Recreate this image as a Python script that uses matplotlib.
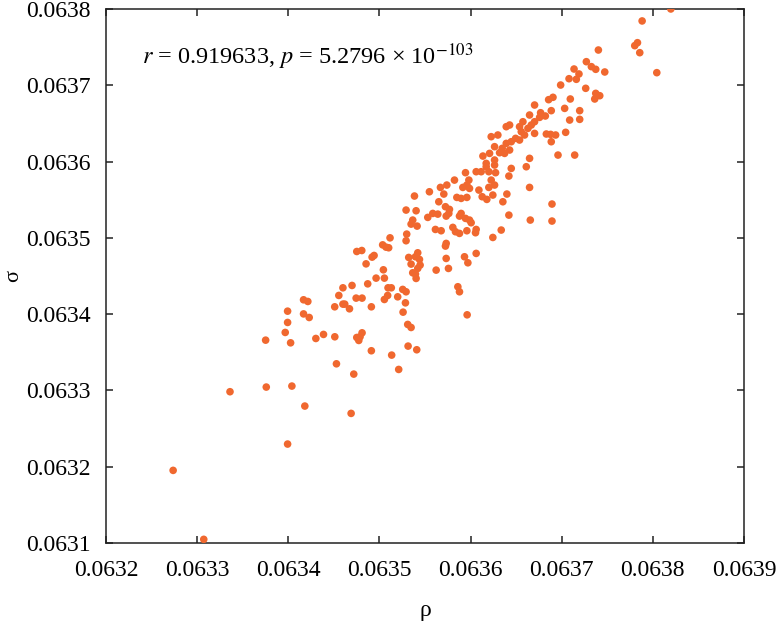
import numpy as np
import matplotlib
matplotlib.use("Agg")
import matplotlib.pyplot as plt

plt.rcParams['font.family'] = ['Liberation Serif', 'DejaVu Serif']
plt.rcParams['mathtext.fontset'] = 'stix'

# values (rho, sigma)
rho = [
    0.0638198, 0.0637883, 0.0637832, 0.0637802, 0.0637857, 0.0638044, 0.0637403, 0.0637271,
    0.0637326, 0.0637374, 0.0637473, 0.0637136, 0.0637190, 0.0637161, 0.0637081, 0.0636989,
    0.0637264, 0.0637374, 0.0637418, 0.0637363, 0.0637095, 0.0636905, 0.0636857, 0.0636703,
    0.0637033, 0.0636886, 0.0637198, 0.0636769, 0.0636648, 0.0636758, 0.0636821, 0.0637088,
    0.0637198, 0.0636575, 0.0636703, 0.0636429, 0.0636392, 0.0636667, 0.0636538, 0.0636630,
    0.0637044, 0.0636832, 0.0636879, 0.0636934, 0.0636227, 0.0636300, 0.0636703, 0.0636557,
    0.0636593, 0.0636886, 0.0636495, 0.0636538, 0.0636447, 0.0636392, 0.0636264, 0.0636348,
    0.0636429, 0.0636374, 0.0636319, 0.0636209, 0.0636136, 0.0636960, 0.0637143, 0.0636648,
    0.0636264, 0.0636172, 0.0636612, 0.0636447, 0.0636264, 0.0636172, 0.0636117, 0.0636275,
    0.0636201, 0.0636421, 0.0636227, 0.0636264, 0.0636201, 0.0636648, 0.0636399, 0.0636128,
    0.0636245,
    0.0636062, 0.0635945, 0.0635982, 0.0635960, 0.0635916, 0.0635989, 0.0635824, 0.0635740,
    0.0635670, 0.0635549, 0.0635707, 0.0635385, 0.0635850, 0.0635897, 0.0635960, 0.0636092,
    0.0636355, 0.0636421, 0.0636337, 0.0636245, 0.0636656, 0.0636894, 0.0636894, 0.0636179,
    0.0635652, 0.0635725,
    0.0635293, 0.0635403, 0.0635769, 0.0635762, 0.0635897, 0.0635879, 0.0635945, 0.0635989,
    0.0636007, 0.0635531, 0.0635586, 0.0635641, 0.0635733, 0.0635366, 0.0635348, 0.0635414,
    0.0635615, 0.0635678, 0.0635806, 0.0635835, 0.0635879, 0.0635960, 0.0636062, 0.0636055,
    0.0635300, 0.0635293, 0.0635733, 0.0635725, 0.0635421, 0.0635322, 0.0635396, 0.0635440,
    0.0635348, 0.0635447, 0.0635421, 0.0635733, 0.0635934, 0.0635971, 0.0636062, 0.0635623,
    0.0635758, 0.0635366, 0.0635396, 0.0635403, 0.0635256, 0.0635293, 0.0635861, 0.0635879,
    0.0635201,
    0.0635286, 0.0635260, 0.0635311, 0.0635348, 0.0635963, 0.0635315, 0.0635410,
    0.0632737, 0.0633073, 0.0633361, 0.0633752, 0.0633759, 0.0633993, 0.0633993, 0.0633967,
    0.0634026, 0.0634040, 0.0634182, 0.0633993, 0.0634168, 0.0634230, 0.0634303, 0.0634387,
    0.0634511, 0.0634510, 0.0634529, 0.0634600, 0.0634620, 0.0634672, 0.0634719, 0.0634690,
    0.0634752, 0.0634774, 0.0634788, 0.0634810, 0.0634912, 0.0634912, 0.0635135, 0.0635212,
    0.0635117, 0.0635036, 0.0635073, 0.0635102, 0.0634752, 0.0634807, 0.0634854, 0.0634920,
    0.0634942, 0.0634872, 0.0634964, 0.0635044, 0.0635055, 0.0635095, 0.0635131, 0.0634700,
    0.0634600, 0.0634555, 0.0634745, 0.0634810, 0.0635055, 0.0635091, 0.0634168, 0.0634215,
]
sigma = [
    0.0638000, 0.0637843, 0.0637558, 0.0637519, 0.0637427, 0.0637165, 0.0637462, 0.0637309,
    0.0637244, 0.0637209, 0.0637174, 0.0637213, 0.0637148, 0.0637078, 0.0637086, 0.0637003,
    0.0636960, 0.0636894, 0.0636863, 0.0636820, 0.0636820, 0.0636842, 0.0636811, 0.0636741,
    0.0636697, 0.0636667, 0.0636667, 0.0636640, 0.0636610, 0.0636579, 0.0636597, 0.0636544,
    0.0636553, 0.0636522, 0.0636522, 0.0636479, 0.0636457, 0.0636479, 0.0636457, 0.0636435,
    0.0636383, 0.0636361, 0.0636356, 0.0636348, 0.0636326, 0.0636348, 0.0636369, 0.0636391,
    0.0636348, 0.0636260, 0.0636304, 0.0636282, 0.0636260, 0.0636238, 0.0636195, 0.0636173,
    0.0636151, 0.0636107, 0.0636116, 0.0636107, 0.0636072, 0.0636085, 0.0636085, 0.0636042,
    0.0636020, 0.0635976, 0.0635932, 0.0635910, 0.0635954, 0.0635932, 0.0635867, 0.0635854,
    0.0635867, 0.0635810, 0.0635757, 0.0635692, 0.0635661, 0.0635661, 0.0635574, 0.0635539,
    0.0635561,
    0.0635867, 0.0635854, 0.0635757, 0.0635692, 0.0635661, 0.0635648, 0.0635757, 0.0635692,
    0.0635661, 0.0635604, 0.0635574, 0.0635548, 0.0635530, 0.0635517, 0.0635530, 0.0635626,
    0.0635473, 0.0635298, 0.0635102, 0.0635005, 0.0635233, 0.0635443, 0.0635220, 0.0635504,
    0.0635473, 0.0635408,
    0.0635364, 0.0635355, 0.0635373, 0.0635320, 0.0635320, 0.0635285, 0.0635255, 0.0635233,
    0.0635198, 0.0635268, 0.0635320, 0.0635311, 0.0635285, 0.0635233, 0.0635180, 0.0635154,
    0.0635110, 0.0635093, 0.0635137, 0.0635080, 0.0635058, 0.0635093, 0.0635110, 0.0635067,
    0.0635049, 0.0634962, 0.0634927, 0.0634892, 0.0634804, 0.0634743, 0.0634752, 0.0634717,
    0.0634656, 0.0634643, 0.0634599, 0.0634730, 0.0634752, 0.0634673, 0.0634796, 0.0634577,
    0.0634599, 0.0634542, 0.0634525, 0.0634468, 0.0634324, 0.0634293, 0.0634359, 0.0634293,
    0.0634227,
    0.0634148, 0.0634026, 0.0633865, 0.0633825, 0.0633991, 0.0633581, 0.0633533,
    0.0631952, 0.0631048, 0.0632983, 0.0633659, 0.0633044, 0.0634039, 0.0633891, 0.0633760,
    0.0633624, 0.0633057, 0.0632795, 0.0632297, 0.0634003, 0.0633956, 0.0633681, 0.0633734,
    0.0633703, 0.0634096, 0.0633349, 0.0634131, 0.0634131, 0.0634070, 0.0633214, 0.0632699,
    0.0633694, 0.0633655, 0.0633703, 0.0633755, 0.0633520, 0.0634096, 0.0633463, 0.0633275,
    0.0635000, 0.0634908, 0.0634878, 0.0634870, 0.0634821, 0.0634834, 0.0634659, 0.0634747,
    0.0634769, 0.0634397, 0.0634472, 0.0634581, 0.0634472, 0.0634345, 0.0634345, 0.0634376,
    0.0634345, 0.0634245, 0.0634210, 0.0634210, 0.0634192, 0.0634245, 0.0634188, 0.0634166,
]

x_ticks = [0.0632, 0.0633, 0.0634, 0.0635, 0.0636, 0.0637, 0.0638, 0.0639]
y_ticks = [0.0631, 0.0632, 0.0633, 0.0634, 0.0635, 0.0636, 0.0637, 0.0638]
r_value = "0.919633"
p_mantissa = "5.2796"
p_exponent = "-103"

fig = plt.figure(figsize=(7.78, 6.23), dpi=100)
ax = fig.add_axes([0.1362, 0.1284, 0.82, 0.8572])

ax.scatter(rho, sigma, s=30, color='#F0682F', edgecolors='none', zorder=3)

ax.set_xlim(x_ticks[0], x_ticks[-1])
ax.set_ylim(y_ticks[0], y_ticks[-1])
ax.set_xticks(x_ticks)
ax.set_yticks(y_ticks)
ax.set_xticklabels([f"{t:.4f}" for t in x_ticks])
ax.set_yticklabels([f"{t:.4f}" for t in y_ticks])
ax.tick_params(direction='in', length=5, width=1.1, top=True, right=True,
               labelsize=17, colors='#222222', labelcolor='black')
ax.tick_params(axis='x', pad=12)
ax.tick_params(axis='y', pad=11)
for sp in ax.spines.values():
    sp.set_linewidth(1.1)
    sp.set_color('#222222')

ax.set_xlabel('ρ', fontsize=17, labelpad=14)
ax.set_ylabel('σ', fontsize=16, labelpad=2)

ax.text(0.0564, 0.8975,
        rf"$r$ = {r_value}, $p$ = {p_mantissa} × 10$^{{{p_exponent}}}$",
        transform=ax.transAxes, fontsize=17.5, va='baseline', ha='left')

fig.savefig('out.png', dpi=100)
